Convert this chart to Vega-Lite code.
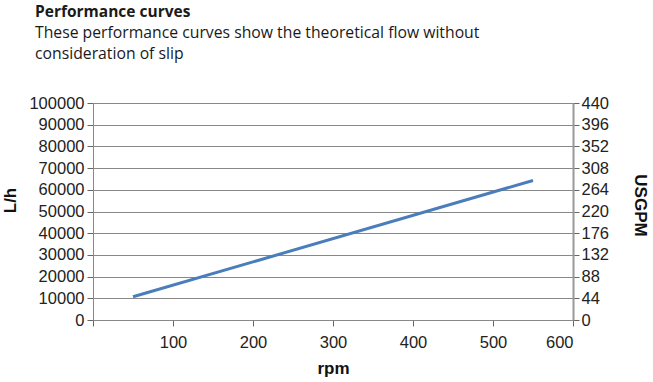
{
  "$schema": "https://vega.github.io/schema/vega-lite/v6.json",
  "autosize": "none",
  "width": 480,
  "height": 217,
  "padding": {"left": 93, "top": 103, "right": 80, "bottom": 62},
  "background": "white",
  "title": {
    "text": "Performance curves",
    "subtitle": ["These performance curves show the theoretical flow without", "consideration of slip"],
    "anchor": "start",
    "frame": "group",
    "dx": -58,
    "offset": 33,
    "font": "Open Sans",
    "fontSize": 15.5,
    "fontWeight": "bold",
    "color": "#1a1a1a",
    "subtitleFont": "Open Sans",
    "subtitleFontSize": 15.75,
    "subtitleColor": "#1a1a1a",
    "subtitleLineHeight": 21,
    "subtitlePadding": 6
  },
  "config": {
    "view": {"stroke": null},
    "axis": {
      "labelFont": "Liberation Sans",
      "labelFontSize": 16.5,
      "labelColor": "#222",
      "titleFont": "Liberation Sans",
      "titleFontSize": 17,
      "titleFontWeight": "bold",
      "titleColor": "#111",
      "domainColor": "#888",
      "tickColor": "#666",
      "gridColor": "#888",
      "tickSize": 6
    }
  },
  "data": {
    "values": [
      {"rpm": 50, "lh": 10700, "usgpm": 47.1},
      {"rpm": 550, "lh": 64300, "usgpm": 283.1}
    ]
  },
  "resolve": {"scale": {"y": "independent"}},
  "layer": [
    {
      "mark": {"type": "line", "color": "#4a7ebb", "strokeWidth": 3},
      "encoding": {
        "x": {
          "field": "rpm", "type": "quantitative",
          "scale": {"domain": [0, 600], "nice": false},
          "axis": {"values": [0, 100, 200, 300, 400, 500, 600], "labelExpr": "datum.value == 0 ? '' : datum.label", "grid": false, "title": "rpm", "titlePadding": 10, "labelPadding": 8}
        },
        "y": {
          "field": "lh", "type": "quantitative",
          "scale": {"domain": [0, 100000], "nice": false},
          "axis": {"values": [0, 10000, 20000, 30000, 40000, 50000, 60000, 70000, 80000, 90000, 100000], "format": "d", "grid": true, "title": "L/h", "titleY": 97, "titlePadding": 9, "labelPadding": 3}
        }
      }
    },
    {
      "mark": {"type": "line", "opacity": 0},
      "encoding": {
        "x": {"field": "rpm", "type": "quantitative"},
        "y": {
          "field": "usgpm", "type": "quantitative",
          "scale": {"domain": [0, 440], "nice": false},
          "axis": {"orient": "right", "values": [0, 44, 88, 132, 176, 220, 264, 308, 352, 396, 440], "grid": false, "title": "USGPM", "titleY": 102, "titlePadding": 22, "labelPadding": 2, "domainWidth": 2, "domainColor": "#999"}
        }
      }
    }
  ]
}
